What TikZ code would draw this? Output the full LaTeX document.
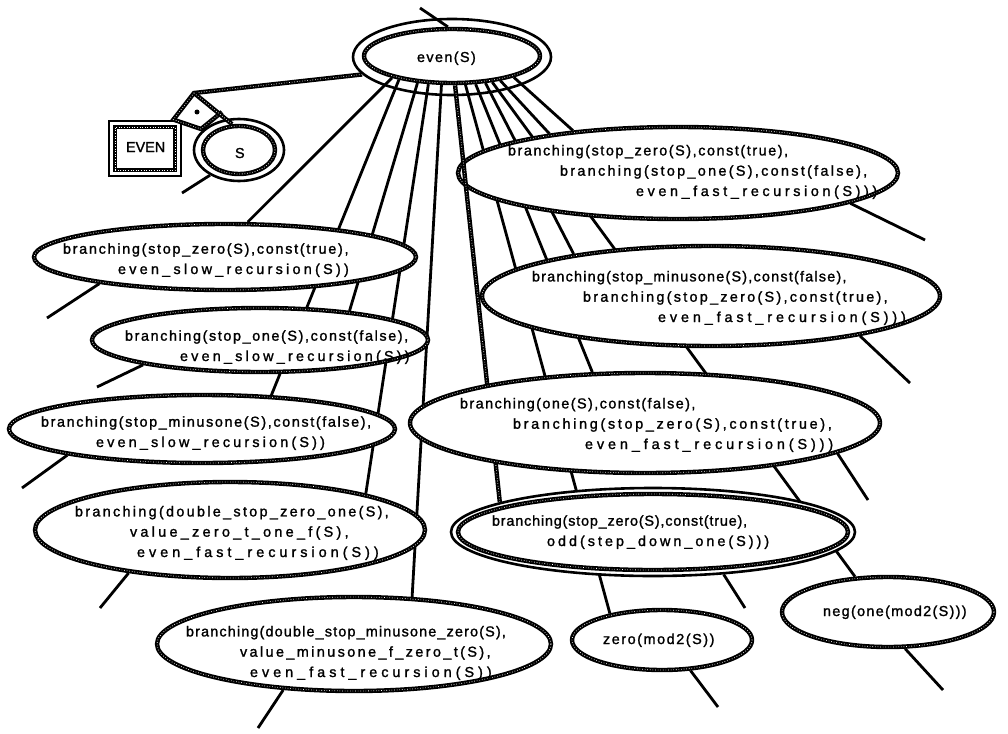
\documentclass[tikz,border=0pt]{standalone}
\usepackage{fontspec}
\newfontfamily\lbl{Liberation Sans}[FakeBold=1.4]
\usetikzlibrary{shapes.geometric}
\pgfdeclarelayer{edges}
\pgfdeclarelayer{mid}
\pgfdeclarelayer{over}
\pgfsetlayers{edges,main,mid,over}

% text block of zero size: #1 left offset from the node centre, #2 raise of the last baseline
\newcommand\tblock[3]{\smash{\makebox[0pt][l]{\hspace*{#1}\raisebox{#2}{\begin{tabular}[b]{@{}l@{}}#3\end{tabular}}}}}
% letter-spaced run (LetterSpace in percent of the font size)
\newcommand\lsp[2]{{\addfontfeature{LetterSpace=#1}#2}}

\tikzset{
  rope/.style={draw=black, line width=4.4pt,
    postaction={draw=white, fill=none, line width=0.8pt, dash pattern=on 0.6pt off 2pt}},
  ell/.style={ellipse, inner sep=0pt, fill=white, rope},
  ring/.style={ellipse, inner sep=0pt, draw=black, line width=2.6pt},
  link/.style={line width=2.8pt},
  stub/.style={line width=2.8pt},
}

\begin{document}
\begin{tikzpicture}[x=1pt, y=-1pt, font=\lbl\fontsize{14.4}{20.3}\selectfont]
\useasboundingbox (0,0) rectangle (1008,733);

% ---- root predicate
\node[ring, minimum width=198pt, minimum height=76pt] (rootring) at (452,57) {};
\node[ell, minimum width=176pt, minimum height=54pt] (root) at (452,56)
  {\tblock{-35pt}{-6pt}{\lsp{9.7}{even(S)}}};

% ---- relation EVEN / S
\node[draw, line width=2.8pt, minimum width=72pt, minimum height=55pt, inner sep=0pt] (evenframe) at (145,148.5) {};
\node[rope, fill=white, minimum width=60pt, minimum height=43pt, inner sep=0pt] (evenbox) at (145,148.5)
  {\tblock{-19pt}{-3.5pt}{EVEN}};
\node[ring, minimum width=90pt, minimum height=62pt] (sring) at (239,150) {};
\node[ell, minimum width=72pt, minimum height=48pt] (s) at (239,150) {\tblock{-4pt}{-8pt}{S}};

% ---- left alternatives
\node[ell, minimum width=382pt, minimum height=66pt] (e1) at (225,257)
  {\tblock{-162pt}{-17pt}{\lsp{11.9}{branching(stop\_zero(S),const(true),}\\
   \hspace*{55pt}\lsp{22.6}{even\_slow\_recursion(S))}}};
\node[ell, minimum width=336pt, minimum height=64pt] (e2) at (260,340)
  {\tblock{-135pt}{-21pt}{\lsp{11.1}{branching(stop\_one(S),const(false),}\\
   \hspace*{55pt}\lsp{22.2}{even\_slow\_recursion(S))}}};
\node[ell, minimum width=386pt, minimum height=68pt] (e3) at (202,429)
  {\tblock{-161pt}{-18pt}{\lsp{11.2}{branching(stop\_minusone(S),const(false),}\\
   \hspace*{55pt}\lsp{22}{even\_slow\_recursion(S))}}};
\node[ell, minimum width=390pt, minimum height=96pt] (e4) at (230,530)
  {\tblock{-155pt}{-27pt}{\lsp{16}{branching(double\_stop\_zero\_one(S),}\\
   \hspace*{55pt}\lsp{22.8}{value\_zero\_t\_one\_f(S),}\\
   \hspace*{62pt}\lsp{27.8}{even\_fast\_recursion(S))}}};
\node[ell, minimum width=394pt, minimum height=94pt] (e5) at (354,644)
  {\tblock{-168pt}{-33pt}{\lsp{8}{branching(double\_stop\_minusone\_zero(S),}\\
   \hspace*{54pt}\lsp{16.7}{value\_minusone\_f\_zero\_t(S),}\\
   \hspace*{64pt}\lsp{27.8}{even\_fast\_recursion(S))}}};

% ---- right alternatives
\node[ell, minimum width=440pt, minimum height=92pt] (r1) at (678,173)
  {\tblock{-170pt}{-23pt}{\lsp{10.8}{branching(stop\_zero(S),const(true),}\\
   \hspace*{52pt}\lsp{16}{branching(stop\_one(S),const(false),}\\
   \hspace*{128pt}\lsp{25}{even\_fast\_recursion(S)))}}};
\node[ell, minimum width=458pt, minimum height=100pt] (r2) at (711,296)
  {\tblock{-179pt}{-26pt}{\lsp{8.4}{branching(stop\_minusone(S),const(false),}\\
   \hspace*{51pt}\lsp{15.8}{branching(stop\_zero(S),const(true),}\\
   \hspace*{126pt}\lsp{27}{even\_fast\_recursion(S)))}}};
\node[ell, minimum width=180pt, minimum height=60pt] (zero) at (662,640)
  {\tblock{-59pt}{-4pt}{\lsp{10.8}{zero(mod2(S))}}};
\node[ell, minimum width=212pt, minimum height=70pt] (neg) at (888,612)
  {\tblock{-65pt}{-4pt}{\lsp{9.2}{neg(one(mod2(S)))}}};

\begin{pgfonlayer}{over}
\node[ell, minimum width=470pt, minimum height=100pt] (r3) at (645,423)
  {\tblock{-185pt}{-26pt}{\lsp{10}{branching(one(S),const(false),}\\
   \hspace*{53pt}\lsp{18.7}{branching(stop\_zero(S),const(true),}\\
   \hspace*{125pt}\lsp{27.1}{even\_fast\_recursion(S)))}}};
\node[ring, fill=white, minimum width=404pt, minimum height=88pt] (r4ring) at (653,532) {};
\node[ell, minimum width=390pt, minimum height=76pt] (r4) at (653,532)
  {\tblock{-161pt}{-14pt}{\lsp{5.7}{branching(stop\_zero(S),const(true),}\\
   \hspace*{55pt}\lsp{20.8}{odd(step\_down\_one(S)))}}};
\end{pgfonlayer}

% ---- free ends of the stubs
\coordinate (c-top) at (420,8);
\coordinate (c-s) at (182,193);
\coordinate (c-e1) at (47,318);
\coordinate (c-e2) at (97,387);
\coordinate (c-e3) at (22,488);
\coordinate (c-e4) at (100,608);
\coordinate (c-e5) at (258,728);
\coordinate (c-r1) at (925,240);
\coordinate (c-r2) at (910,383);
\coordinate (c-r3) at (868,500);
\coordinate (c-r4) at (745,608);
\coordinate (c-zero) at (718,707);
\coordinate (c-neg) at (943,690);

\begin{pgfonlayer}{edges}
% fan of alternatives below the root
\draw[link] (root.200) -- (e1.57);
\draw[link] (root.204) -- (e3.26);
\draw[link] (root.218) -- (e2.18);
\draw[link] (root.230) -- (e4.15);
\draw[link] (root.250) -- (e5.39);
\draw[link] (root.295) -- (zero.153);
\draw[link] (root.310) -- (r3.136);
\draw[link] (root.321) -- (r2.163);
\draw[link] (root.327) -- (neg.133);
\draw[link] (root.333) -- (r1.163);
\draw[link] (root.341) -- (r1.158);
% stubs
\draw[stub] (root.98) -- (c-top);
\draw[stub] (sring.221) -- (c-s);
\draw[stub] (e1.192) -- (c-e1);
\draw[stub] (e2.192) -- (c-e2);
\draw[stub] (e3.191) -- (c-e3);
\draw[stub] (e4.203) -- (c-e4);
\draw[stub] (e5.213) -- (c-e5);
\draw[stub] (r1.350) -- (c-r1);
\draw[stub] (r2.345) -- (c-r2);
\draw[stub] (r3.351) -- (c-r3);
\draw[stub] (r4ring.329) -- (c-r4);
\draw[stub] (zero.313) -- (c-zero);
\draw[stub] (neg.295) -- (c-neg);
\end{pgfonlayer}

% selected path
\begin{pgfonlayer}{mid}
\draw[rope] (root.276) -- (r4ring.169);
\end{pgfonlayer}

% relation symbol between EVEN and S
\coordinate (ja) at (194,93);
\coordinate (jb) at ([xshift=-9pt]evenframe.north east);
\coordinate (jc) at (201,129);
\coordinate (jd) at (222,112);
\draw[rope] (rootring.191) -- (ja) -- (jb) -- (jc) -- (jd);
\draw[rope] (ja) -- (s.105);
\node[circle, fill=black, inner sep=0pt, minimum size=5pt] (reldot) at (197,112) {};
\end{tikzpicture}
\end{document}
